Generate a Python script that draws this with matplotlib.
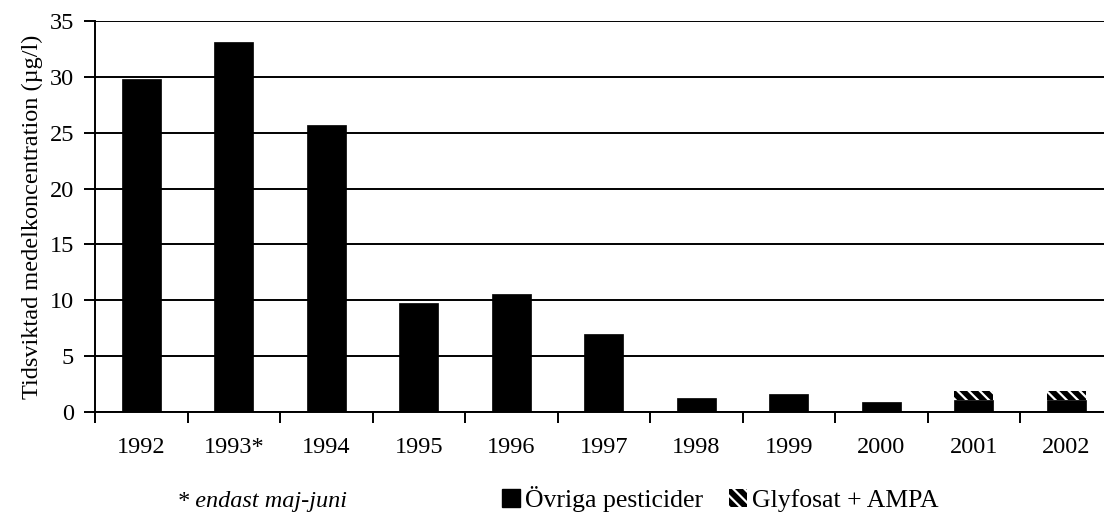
import matplotlib
matplotlib.use("Agg")
import matplotlib.pyplot as plt
from matplotlib.patches import Patch
import numpy as np

years = ["1992", "1993*", "1994", "1995", "1996", "1997", "1998", "1999", "2000", "2001", "2002"]
ovriga = [29.8, 33.1, 25.7, 9.8, 10.6, 7.0, 1.25, 1.65, 0.9, 1.1, 1.1]
glyfosat = [0, 0, 0, 0, 0, 0, 0, 0, 0, 0.8, 0.8]
yticks = [0, 5, 10, 15, 20, 25, 30, 35]

plt.rcParams['font.family'] = ['Liberation Serif', 'DejaVu Serif']
plt.rcParams['hatch.linewidth'] = 1.6
FS = 17.5
FSL = 18.5

fig = plt.figure(figsize=(11.04, 5.16), dpi=100)
ax = fig.add_axes([95/1104, 104/516, 1017.5/1104, 391/516])

x = np.arange(len(years))
w = 0.42
ax.bar(x, ovriga, width=w, color='black', edgecolor='black', linewidth=0.5)
ax.bar(x, glyfosat, width=w, bottom=ovriga, color='black', edgecolor='white',
       linewidth=0, hatch='\\\\\\')

ax.set_xlim(-0.5, len(years) - 0.5)
ax.set_ylim(0, 35)
ax.set_yticks(yticks)
ax.set_yticklabels([str(t) for t in yticks], fontsize=FS)
ax.set_xticks(x)
ax.set_xticklabels(years, fontsize=FS)
ax.tick_params(axis='x', which='major', length=0, pad=18)
ax.set_xticks(np.arange(-0.5, len(years) - 0.4, 1), minor=True)
ax.tick_params(axis='x', which='minor', length=8, width=1.4, direction='out')
ax.tick_params(axis='y', length=8, width=1.4, direction='out', pad=7)

ax.yaxis.grid(True, color='black', linewidth=1.4)
ax.set_axisbelow(True)
for s in ['top', 'right']:
    ax.spines[s].set_visible(False)
for s in ['left', 'bottom']:
    ax.spines[s].set_linewidth(1.4)

ax.set_ylabel("Tidsviktad medelkoncentration (µg/l)", fontsize=FS, labelpad=5)

fig.text(177/1104, 1 - 501/516, "* endast maj-juni", fontsize=FS, style='italic',
         ha='left', va='center')

handles = [Patch(facecolor='black', edgecolor='black', label='Övriga pesticider'),
           Patch(facecolor='black', edgecolor='white', linewidth=0, hatch='\\\\\\', label='Glyfosat + AMPA')]
fig.legend(handles=handles, loc='center left', bbox_to_anchor=(502/1104, 1 - 499/516), ncol=2,
           frameon=False, fontsize=FSL, handlelength=0.7, handleheight=0.7,
           handletextpad=0.2, columnspacing=1.0, borderpad=0, borderaxespad=0)

fig.savefig("out.png", dpi=100)
